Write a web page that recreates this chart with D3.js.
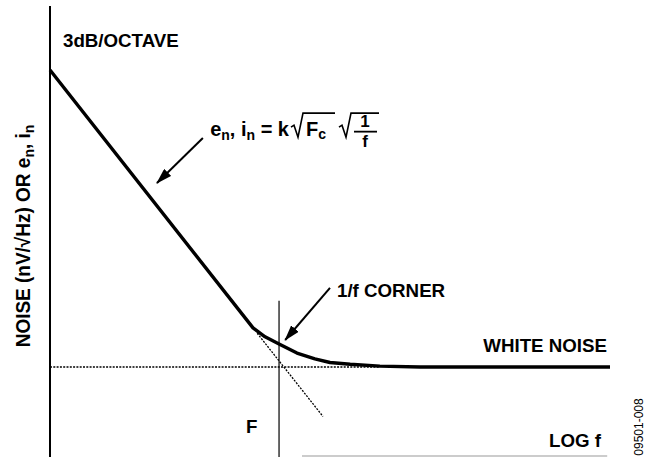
<!DOCTYPE html>
<html>
<head>
<meta charset="utf-8">
<script src="https://cdn.jsdelivr.net/npm/d3@7"></script>
<style>
  body { margin: 0; background: #fff; }
  svg { display: block; }
  text { font-family: "Liberation Sans", Arial, sans-serif; font-weight: bold; fill: #000; white-space: pre; }
</style>
</head>
<body>
<div id="chart"></div>
<script>
// noise curve (x = position along log f, y = noise level)
const noiseX = [0, 36.25, 38.4, 40.9, 44.1, 47.3, 50, 53.6, 58.9, 66.1, 100];
const noiseY = [86, 28.7, 26.7, 25.1, 23.1, 21.8, 21, 20.6, 20.2, 20, 20];

// 1/f asymptote continued past the knee (dotted)
const slopeX = [37, 48.75];
const slopeY = [27.5, 9];

// white noise floor (dotted part) and the corner frequency marker
const whiteLevel = 20;
const whiteDottedEnd = 58.9;
const cornerX = 40.9;
const cornerTop = 34.7;

// annotation arrows [fromX, fromY, toX, toY]
const arrows = [
    [27.3, 70.9, 19.1, 60.9],
    [50, 37.6, 42, 26]
];

const width = 647;
const height = 457;

const x = d3.scaleLinear().domain([0, 100]).range([50, 610]);
const y = d3.scaleLinear().domain([0, 100]).range([457, 7]);

const svg = d3.select("#chart")
    .append("svg")
    .attr("width", width)
    .attr("height", height);

svg.append("defs").append("marker")
    .attr("id", "head")
    .attr("viewBox", "0 0 16 10")
    .attr("refX", 15)
    .attr("refY", 5)
    .attr("markerWidth", 8)
    .attr("markerHeight", 5)
    .attr("markerUnits", "strokeWidth")
    .attr("orient", "auto")
    .append("path")
        .attr("d", "M0,0 L16,5 L0,10 Z")
        .attr("fill", "#000");

// y axis (no ticks)
svg.append("line")
    .attr("x1", x(0)).attr("x2", x(0))
    .attr("y1", y(100.2)).attr("y2", y(0))
    .attr("stroke", "#000")
    .attr("stroke-width", 2);

// faint baseline at the bottom
svg.append("line")
    .attr("x1", x(45)).attr("x2", x(99.5))
    .attr("y1", y(0.2)).attr("y2", y(0.2))
    .attr("stroke", "#bbb")
    .attr("stroke-width", 1.5);

// dotted white noise level
svg.append("line")
    .attr("x1", x(0)).attr("x2", x(whiteDottedEnd))
    .attr("y1", y(whiteLevel)).attr("y2", y(whiteLevel))
    .attr("stroke", "#000")
    .attr("stroke-width", 1.3)
    .attr("stroke-dasharray", "2,1.3");

// dotted asymptote
svg.append("line")
    .attr("x1", x(slopeX[0])).attr("x2", x(slopeX[1]))
    .attr("y1", y(slopeY[0])).attr("y2", y(slopeY[1]))
    .attr("stroke", "#000")
    .attr("stroke-width", 1.3)
    .attr("stroke-dasharray", "2,1.3");

// corner frequency line
svg.append("line")
    .attr("x1", x(cornerX)).attr("x2", x(cornerX))
    .attr("y1", y(cornerTop)).attr("y2", y(0))
    .attr("stroke", "#000")
    .attr("stroke-width", 1.2);

// the noise curve
const curve = noiseX.map((d, i) => [d, noiseY[i]]);
svg.append("path")
    .datum(curve)
    .attr("fill", "none")
    .attr("stroke", "#000")
    .attr("stroke-width", 3.4)
    .attr("stroke-linejoin", "round")
    .attr("d", d3.line()
        .x(d => x(d[0]))
        .y(d => y(d[1])));

// arrows
svg.selectAll(".arrow")
    .data(arrows)
    .enter().append("line")
        .attr("class", "arrow")
        .attr("x1", d => x(d[0]))
        .attr("y1", d => y(d[1]))
        .attr("x2", d => x(d[2]))
        .attr("y2", d => y(d[3]))
        .attr("stroke", "#000")
        .attr("stroke-width", 2)
        .attr("marker-end", "url(#head)");

// text is a little wider than it is tall in the picture
const stretch = 1.07;

function label(px, py, str, size, anchor) {
    return svg.append("text")
        .attr("transform", `translate(${px},${py}) scale(${stretch},1)`)
        .attr("text-anchor", anchor || "start")
        .style("font-size", size + "px")
        .text(str);
}

label(x(2.32), y(91.1), "3dB/OCTAVE", 17.5);
label(x(51.25), y(35.6), "1/f CORNER", 17.5);
label(x(99.46), y(23.3), "WHITE NOISE", 17.5, "end");
label(x(98.4), y(2.2), "LOG f", 17.5, "end");
label(x(35), y(5.3), "F", 17.5);

// figure number
svg.append("text")
    .attr("transform", `translate(643,427) rotate(-90)`)
    .attr("text-anchor", "middle")
    .style("font-size", "12px")
    .style("font-weight", "normal")
    .text("09501-008");

// y axis title
const yTitle = svg.append("text")
    .attr("transform", `translate(30,236) scale(${stretch},1) rotate(-90)`)
    .attr("text-anchor", "middle")
    .style("font-size", "19px");
yTitle.append("tspan").text("NOISE (nV/\u221AHz) OR e");
yTitle.append("tspan").attr("dy", 4).style("font-size", "14px").text("n");
yTitle.append("tspan").attr("dy", -4).text(", i");
yTitle.append("tspan").attr("dy", 4).style("font-size", "14px").text("n");

// formula e_n, i_n = k sqrt(Fc) sqrt(1/f)
const fx = x(28.6), fy = y(71.3);
const formula = svg.append("g")
    .attr("transform", `translate(${fx},${fy})`);
let cx = 0;
function piece(str, size, dy) {
    const t = formula.append("text")
        .attr("x", cx)
        .attr("y", dy || 0)
        .style("font-size", size + "px")
        .text(str);
    cx += t.node().getComputedTextLength();
    return t;
}
function radical(w) {
    formula.append("path")
        .attr("d", `M${cx},-9 L${cx + 3},-11 L${cx + 7},1 L${cx + 12},-23 L${cx + 12 + w},-23`)
        .attr("fill", "none")
        .attr("stroke", "#000")
        .attr("stroke-width", 1.6);
    cx += 15;
}
piece("e", 20);
piece("n", 14, 4);
piece(",\u00A0i", 20);
piece("n", 14, 4);
piece("\u00A0=\u00A0k", 20);
cx += 2;
const r1 = cx;
radical(32);
piece("F", 20);
piece("c", 14, 3);
cx = Math.max(cx, r1 + 12 + 32) + 4;
radical(28);
const fracX = cx + 11;
formula.append("text")
    .attr("x", fracX).attr("y", -9)
    .attr("text-anchor", "middle")
    .style("font-size", "17px")
    .text("1");
formula.append("line")
    .attr("x1", fracX - 11).attr("x2", fracX + 12)
    .attr("y1", -4.5).attr("y2", -4.5)
    .attr("stroke", "#000")
    .attr("stroke-width", 1.8);
formula.append("text")
    .attr("x", fracX).attr("y", 11)
    .attr("text-anchor", "middle")
    .style("font-size", "17px")
    .text("f");
</script>
</body>
</html>
